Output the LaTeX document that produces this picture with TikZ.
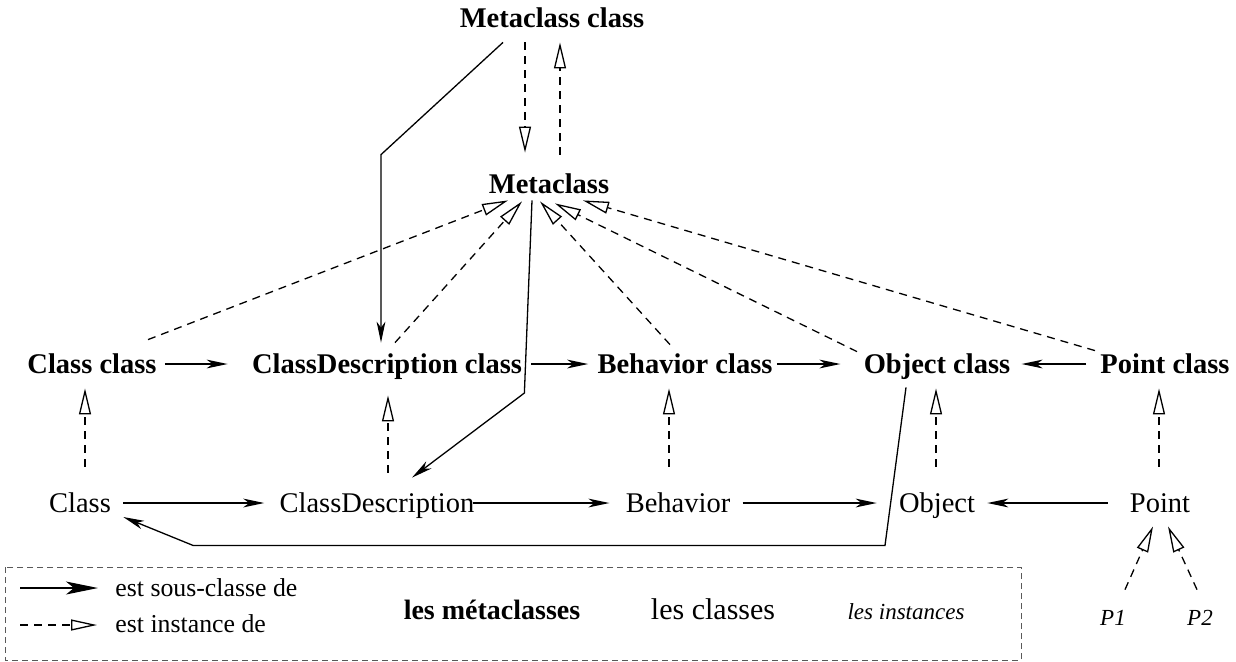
\documentclass[tikz,border=0pt]{standalone}
\usepackage{fontspec}
\setmainfont{Liberation Serif}
\usetikzlibrary{arrows.meta,calc}
\begin{document}
\begin{tikzpicture}[x=0.5pt,y=-0.5pt,
  lbl/.style={anchor=base,inner sep=0pt,text height=10pt,text depth=1pt,font=\fontsize{14.25}{17}\selectfont},
  meta/.style={lbl,font=\fontsize{14.25}{17}\selectfont\bfseries},
  inst/.style={lbl,font=\fontsize{11.5}{14}\selectfont\itshape},
  legtext/.style={anchor=base west,inner sep=0pt,text height=10pt,text depth=1pt,font=\fontsize{12.9}{15}\selectfont},
  subarrow/.style={line width=0.65pt,-{Stealth[length=10.5pt,width=4.4pt,inset=3pt]}},
  instarrow/.style={line width=0.65pt,dash pattern=on 4pt off 3pt,-{Triangle[open,length=13pt,width=6pt,fill=white]}},
  legbox/.style={draw=black!65,line width=0.5pt,dash pattern=on 3pt off 2pt},
]
\useasboundingbox (0,0) rectangle (1236,661);
% nodes
\node[meta] (mcc) at (552,27) {Metaclass class};
\node[meta] (mc) at (549,193) {Metaclass};
\node[meta] (cc) at (92,373) {Class class};
\node[meta] (cdc) at (387,373) {ClassDescription class};
\node[meta] (bc) at (685,373) {Behavior class};
\node[meta] (oc) at (937,373) {Object class};
\node[meta] (pc) at (1165,373) {Point class};
\node[lbl] (c) at (80,512) {Class};
\node[lbl] (cd) at (377,512) {ClassDescription};
\node[lbl] (b) at (678,512) {Behavior};
\node[lbl] (o) at (937,512) {Object};
\node[lbl] (p) at (1160,512) {Point};
\node[inst] (p1) at (1113,625) {P1};
\node[inst] (p2) at (1200,625) {P2};
% legend
\draw[legbox] (5,567) rectangle (1021,660);
\node[legtext] (ls) at (115,596) {est sous-classe de};
\node[legtext] (li) at (115,632) {est instance de};
\coordinate (ls0) at (20,588);
\coordinate (li0) at (20,625);
\draw[line width=0.65pt,-{Stealth[length=16pt,width=6.5pt,inset=4pt]}] (ls0) -- ($(ls0 -| ls.west)+(-17,0)$);
\draw[line width=0.65pt,dash pattern=on 4pt off 3pt,-{Triangle[open,length=13pt,width=5.5pt,fill=white]}] (li0) -- ($(li0 -| li.west)+(-18,0)$);
\node[meta,font=\fontsize{14}{17}\selectfont\bfseries] (lm) at (492,619) {les métaclasses};
\node[lbl,font=\fontsize{15}{18}\selectfont] (lc) at (713,619) {les classes};
\node[inst] (lin) at (906,619) {les instances};
% subclass row 1
\draw[subarrow] ($(cc.east)+(8,0)$) -- ($(cc.east -| cdc.west)+(-24,0)$);
\draw[subarrow] ($(cdc.east)+(9,0)$) -- ($(cdc.east -| bc.west)+(-9,0)$);
\draw[subarrow] ($(bc.east)+(4,0)$) -- ($(bc.east -| oc.west)+(-23,0)$);
\draw[subarrow] ($(pc.west)+(-14,0)$) -- ($(pc.west -| oc.east)+(11,0)$);
% subclass row 2
\draw[subarrow] ($(c.east)+(12,0)$) -- ($(c.east -| cd.west)+(-15,0)$);
\draw[subarrow] ($(cd.east)+(-2,0)$) -- ($(cd.east -| b.west)+(-16,0)$);
\draw[subarrow] ($(b.east)+(12,0)$) -- ($(b.east -| o.west)+(-22,0)$);
\draw[subarrow] ($(p.west)+(-22,0)$) -- ($(p.west -| o.east)+(12,0)$);
% long subclass links
\draw[subarrow] ($(mcc.south)+(-49,13)$) -- ($(cdc.north)+(-6,-198)$) -- ($(cdc.north)+(-6,-10)$);
\draw[subarrow] ($(mc.south)+(-17,5)$) -- ($(cdc.east)+(2,29)$) -- ($(cd.north)+(35,-14)$);
\draw[subarrow] ($(oc.south)+(-31,12)$) -- ($(o.south)+(-52,31)$) -- ($(c.south)+(113,31)$) -- ($(c.east)+(12,14)$);
% instance vertical
\draw[instarrow] ($(c.north)+(5,-25)$) -- ($(cc.south)+(-7,13)$);
\draw[instarrow] ($(cd.north)+(11,-19)$) -- ($(cdc.south)+(1,20)$);
\draw[instarrow] ($(b.north)+(-9,-25)$) -- ($(bc.south)+(-16,13)$);
\draw[instarrow] ($(o.north)+(-1,-25)$) -- ($(oc.south)+(-1,13)$);
\draw[instarrow] ($(p.north)+(-1,-25)$) -- ($(pc.south)+(-6,13)$);
% instance to Metaclass
\draw[instarrow] ($(cc.north)+(56,-13)$) -- ($(mc.south)+(-41,5)$);
\draw[instarrow] ($(cdc.north)+(8,-10)$) -- ($(mc.south)+(-27,6)$);
\draw[instarrow] ($(bc.north)+(-15,-8)$) -- ($(mc.south)+(-9,6)$);
\draw[instarrow] ($(oc.north)+(-80,-1)$) -- ($(mc.south)+(6,8)$);
\draw[instarrow] ($(pc.north)+(-70,-2)$) -- ($(mc.south)+(34,5)$);
% Metaclass class <-> Metaclass
\draw[instarrow] ($(mcc.south)+(-27,13)$) -- ($(mc.north)+(-24,-20)$);
\draw[instarrow] ($(mc.north)+(11,-18)$) -- ($(mcc.south)+(8,13)$);
% P1, P2
\draw[instarrow] ($(p1.north)+(12,-15)$) -- ($(p.south)+(-7,12)$);
\draw[instarrow] ($(p2.north)+(-3,-15)$) -- ($(p.south)+(8,12)$);
\end{tikzpicture}
\end{document}
